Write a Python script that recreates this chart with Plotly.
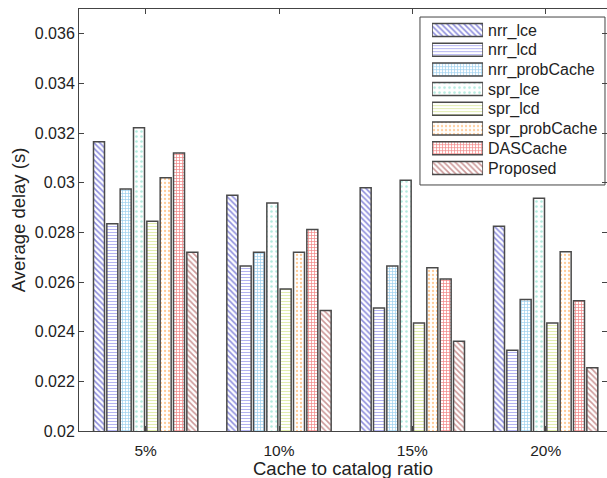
import plotly.graph_objects as go

# Cache-to-catalog ratios on the x axis
ratios = ["5%", "10%", "15%", "20%"]

# Average delay (s) for each caching scheme
nrr_lce = [0.03165, 0.02950, 0.02980, 0.02825]
nrr_lcd = [0.02835, 0.02665, 0.02495, 0.02325]
nrr_probcache = [0.02975, 0.02720, 0.02665, 0.02530]
spr_lce = [0.03222, 0.02918, 0.03010, 0.02938]
spr_lcd = [0.02845, 0.02572, 0.02435, 0.02435]
spr_probcache = [0.03020, 0.02720, 0.02658, 0.02722]
dascache = [0.03120, 0.02812, 0.02612, 0.02525]
proposed = [0.02720, 0.02485, 0.02362, 0.02255]

y_ticks = [0.02, 0.022, 0.024, 0.026, 0.028, 0.03, 0.032, 0.034, 0.036]
y_tick_text = ["0.02", "0.022", "0.024", "0.026", "0.028", "0.03", "0.032", "0.034", "0.036"]

# name, values, hatch shape, hatch colour, hatch period (px), solidity
series = [
    ("nrr_lce", nrr_lce, "\\", "#8c8cdc", 4, 0.38),
    ("nrr_lcd", nrr_lcd, "-", "#ababf0", 3, 0.3),
    ("nrr_probCache", nrr_probcache, "+", "#9ccfee", 3, 0.4),
    ("spr_lce", spr_lce, ".", "#b3ecdf", 5, 0.2),
    ("spr_lcd", spr_lcd, "-", "#dfeca6", 3, 0.3),
    ("spr_probCache", spr_probcache, ".", "#ffcc99", 4, 0.26),
    ("DASCache", dascache, "+", "#f28888", 3, 0.42),
    ("Proposed", proposed, "\\", "#cc9898", 4, 0.38),
]

x_pos = [1, 2, 3, 4]
outline = dict(color="#4a4a4a", width=1.5)

fig = go.Figure()
for name, vals, shape, col, size, sol in series:
    fig.add_trace(go.Bar(
        x=x_pos,
        y=vals,
        name=name,
        showlegend=False,
        marker=dict(
            color="white",
            line=outline,
            pattern=dict(shape=shape, fgcolor=col, bgcolor="white",
                         size=size, solidity=sol, fillmode="replace"),
        ),
    ))

# Legend: one wide hatched swatch per scheme on a small inset axis,
# with the scheme names as the inset's tick labels on its right side
names = [s[0] for s in series]
fig.add_trace(go.Bar(
    x=[1] * len(series),
    y=names,
    orientation="h",
    width=0.66,
    xaxis="x2",
    yaxis="y2",
    showlegend=False,
    hoverinfo="skip",
    marker=dict(
        color="white",
        line=outline,
        pattern=dict(
            shape=[s[2] for s in series],
            fgcolor=[s[3] for s in series],
            bgcolor="white",
            size=[s[4] for s in series],
            solidity=[s[5] for s in series],
            fillmode="replace",
        ),
    ),
))

font_family = "Liberation Sans, Arial, sans-serif"
axis_col = "#444444"

fig.update_layout(
    width=607,
    height=478,
    margin=dict(l=79, r=0, t=9, b=47),
    paper_bgcolor="white",
    plot_bgcolor="white",
    barmode="group",
    bargap=0.2,
    bargroupgap=0.175,
    font=dict(family=font_family, size=16, color="#222222"),
    showlegend=False,
    xaxis=dict(
        range=[0.5, 4.46],
        tickmode="array", tickvals=x_pos, ticktext=ratios,
        ticks="inside", ticklen=5, tickcolor=axis_col,
        showline=True, linecolor=axis_col, linewidth=1, mirror="ticks",
        showgrid=False, zeroline=False,
        ticklabelstandoff=5,
        automargin=False,
        tickfont=dict(size=15.5),
    ),
    yaxis=dict(
        range=[0.02, 0.037],
        tickmode="array", tickvals=y_ticks, ticktext=y_tick_text,
        ticks="inside", ticklen=5, tickcolor=axis_col,
        showline=True, linecolor=axis_col, linewidth=1, mirror="ticks",
        showgrid=False, zeroline=False,
        automargin=False,
        title=dict(text="Average delay (s)", font=dict(size=18.5), standoff=4),
        tickfont=dict(size=16),
    ),
    xaxis2=dict(
        domain=[0.6686, 0.7652], anchor="y2", range=[0, 1],
        visible=False, fixedrange=True,
    ),
    yaxis2=dict(
        domain=[0.600, 0.9736], anchor="x2",
        type="category", autorange="reversed",
        side="right", showline=False, showgrid=False, zeroline=False,
        ticks="", ticklabelstandoff=4, fixedrange=True,
        tickfont=dict(size=16, color="#222222"),
        automargin=False,
    ),
    annotations=[
        dict(text="Cache to catalog ratio", xref="paper", yref="paper",
             x=0.5, y=-0.088, xanchor="center", yanchor="middle",
             showarrow=False, font=dict(size=18.5, color="#222222")),
    ],
    shapes=[
        dict(type="rect", xref="paper", yref="paper",
             x0=0.6458, x1=0.9962, y0=0.583, y1=0.981,
             fillcolor="white", line=dict(color=axis_col, width=1),
             layer="below"),
    ],
)

fig.write_html("out.html")
